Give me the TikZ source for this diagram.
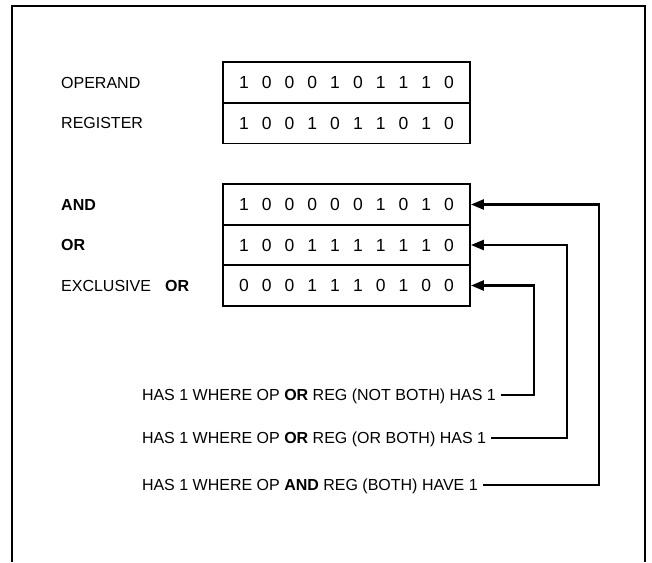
\documentclass[tikz,border=0pt]{standalone}
\usepackage{fontspec}
\setmainfont{Liberation Sans}
\usetikzlibrary{arrows.meta}
\newcommand\onebit[1]{\makebox[22.8pt]{#1}}
\def\bitloop#1{\ifx#1\relax\else\onebit{#1}\expandafter\bitloop\fi}
\newcommand\bitrow[1]{\bitloop#1\relax}
\begin{document}
\begin{tikzpicture}[x=1pt,y=-1pt,
  cell/.style={draw, line width=1.8pt, minimum width=247pt, minimum height=41pt,
    inner sep=0pt, font=\fontsize{17.5}{20}\selectfont},
  lbl/.style={anchor=west, inner sep=0pt, text height=11.5pt, text depth=0pt,
    font=\fontsize{16}{19}\selectfont},
  note/.style={lbl, outer xsep=5pt},
  conn/.style={line width=2.4pt, line join=miter, -{Triangle[length=13pt,width=10pt]}},
  framestyle/.style={line width=2.4pt, line join=miter}]
\useasboundingbox (0,0) rectangle (652,562);
\draw[framestyle] (12,562) -- (12,6) -- (645,6) -- (645,562);

\node[cell] (op)  at (346.5,82.5)  {\bitrow{1000101110}};
\node[cell] (reg) at (346.5,123)   {\bitrow{1001011010}};
\node[cell] (and) at (346.5,204.5) {\bitrow{1000001010}};
\node[cell] (or)  at (346.5,245)   {\bitrow{1001111110}};
\node[cell] (xor) at (346.5,285.5) {\bitrow{0001110100}};

\node[lbl] (lop)  at (61,82.5)  {OPERAND};
\node[lbl] (lreg) at (61,123)   {REGISTER};
\node[lbl] (land) at (61,204.5) {\textbf{AND}};
\node[lbl] (lor)  at (61,245)   {\textbf{OR}};
\node[lbl] (lxor) at (61,285.5) {EXCLUSIVE\hspace{0.6em} \textbf{OR}};

\node[note] (t1) at (137,395) {HAS 1 WHERE OP \textbf{OR} REG (NOT BOTH) HAS 1};
\node[note] (t2) at (137,438) {HAS 1 WHERE OP \textbf{OR} REG (OR BOTH) HAS 1};
\node[note] (t3) at (137,485) {HAS 1 WHERE OP \textbf{AND} REG (BOTH) HAVE 1};

\coordinate (v1) at (534,340);
\coordinate (v2) at (567,340);
\coordinate (v3) at (599,340);
\draw[conn] (t1.east) -| (v1) |- (xor.east);
\draw[conn] (t2.east) -| (v2) |- (or.east);
\draw[conn] (t3.east) -| (v3) |- (and.east);
\end{tikzpicture}
\end{document}
